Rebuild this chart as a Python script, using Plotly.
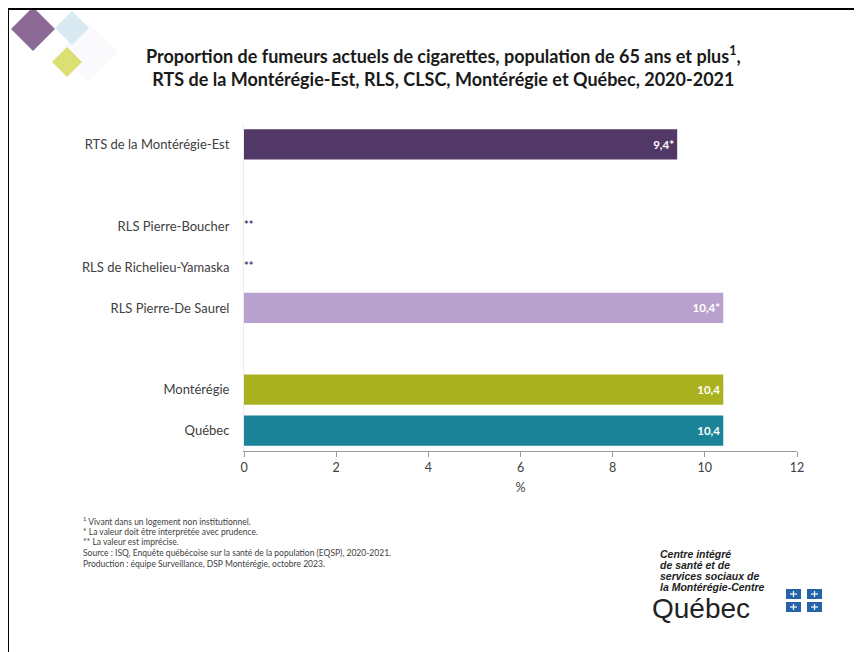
import plotly.graph_objects as go

categories = ["RTS de la Montérégie-Est", " ", "RLS Pierre-Boucher", "RLS de Richelieu-Yamaska",
              "RLS Pierre-De Saurel", "  ", "Montérégie", "Québec"]
values = [9.4, None, None, None, 10.4, None, 10.4, 10.4]
value_labels = ["9,4*", "", "", "", "10,4*", "", "10,4", "10,4"]
imprecise_labels = ["", "", "**", "**", "", "", "", ""]
bar_colors = ["#523866", "#ffffff", "#ffffff", "#ffffff", "#B8A1CC", "#ffffff", "#A9B21E", "#1B8397"]
x_ticks = [0, 2, 4, 6, 8, 10, 12]

# the page places the figure 8px from the top-left corner; layout is given in screen pixels
OFF = 8
W, H = 862 - OFF, 652 - OFF
L, R, T, B = 244 - OFF, 797 - OFF, 124 - OFF, 451 - OFF


def px(x):
    return ((x - OFF) - L) / (R - L)


def py(y):
    return (B - (y - OFF)) / (B - T)


fig = go.Figure()
fig.add_trace(go.Bar(
    y=categories, x=values, orientation="h",
    marker=dict(color=bar_colors, line=dict(width=0)),
    text=value_labels, textposition="inside", insidetextanchor="end",
    textfont=dict(family="Lato", size=11.5, color="white", weight="bold"),
    cliponaxis=False, hoverinfo="skip", showlegend=False,
))
fig.add_trace(go.Scatter(
    y=categories, x=[0] * len(categories), mode="text",
    text=imprecise_labels, textposition="middle right",
    textfont=dict(family="Lato", size=11, color="#4A3A78", weight="bold"),
    hoverinfo="skip", showlegend=False, cliponaxis=False,
))

shapes = []
# frame lines (top and left)
shapes.append(dict(type="line", xref="paper", yref="paper", x0=px(6), x1=px(870), y0=py(8.5), y1=py(8.5),
                   line=dict(color="black", width=3)))
shapes.append(dict(type="line", xref="paper", yref="paper", x0=px(8), x1=px(8), y0=py(7), y1=py(660),
                   line=dict(color="black", width=2)))


def diamond(cx, cy, r, color, opacity=1.0):
    pts = [(cx, cy - r), (cx + r, cy), (cx, cy + r), (cx - r, cy)]
    path = "M " + " L ".join(f"{px(a):.5f},{py(b):.5f}" for a, b in pts) + " Z"
    return dict(type="path", xref="paper", yref="paper", path=path,
                fillcolor=color, line=dict(width=0), opacity=opacity, layer="below")


shapes.append(diamond(88, 52, 30, "#FAFAFC"))
shapes.append(diamond(72, 28, 17, "#D9E9F1"))
shapes.append(diamond(33, 29, 22, "#8A6A94"))
shapes.append(diamond(67, 62, 15, "#DCDF72"))

# Quebec flag squares
for (fx, fy) in [(786, 589), (807, 589), (786, 602), (807, 602)]:
    shapes.append(dict(type="rect", xref="paper", yref="paper",
                       x0=px(fx), x1=px(fx + 15), y0=py(fy), y1=py(fy + 10),
                       fillcolor="#2563A8", line=dict(width=0)))
    shapes.append(dict(type="line", xref="paper", yref="paper",
                       x0=px(fx + 7.5), x1=px(fx + 7.5), y0=py(fy + 2), y1=py(fy + 8),
                       line=dict(color="white", width=1.2)))
    shapes.append(dict(type="line", xref="paper", yref="paper",
                       x0=px(fx + 4), x1=px(fx + 11), y0=py(fy + 5), y1=py(fy + 5),
                       line=dict(color="white", width=1.2)))

annotations = []
annotations.append(dict(
    xref="paper", yref="paper", x=px(443), y=py(67), xanchor="center", yanchor="middle",
    text="<b>Proportion de fumeurs actuels de cigarettes, population de 65 ans et plus<sup>1</sup>,<br>"
         "RTS de la Montérégie-Est, RLS, CLSC, Montérégie et Québec, 2020-2021</b>",
    showarrow=False, font=dict(family="Lato", size=18, color="#1a1a1a"), align="center"))

foot = ["<sup>1</sup> Vivant dans un logement non institutionnel.",
        "* La valeur doit être interprétée avec prudence.",
        "** La valeur est imprécise.",
        "Source : ISQ, Enquête québécoise sur la santé de la population (EQSP), 2020-2021.",
        "Production : équipe Surveillance, DSP Montérégie, octobre 2023."]
for i, line in enumerate(foot):
    annotations.append(dict(xref="paper", yref="paper", x=px(81), y=py(521 + i * 10.7),
                            xanchor="left", yanchor="middle", text=line, showarrow=False,
                            font=dict(family="Lato", size=8.5, color="#404040")))

logo = ["Centre intégré", "de santé et de", "services sociaux de", "la Montérégie-Centre"]
for i, line in enumerate(logo):
    annotations.append(dict(xref="paper", yref="paper", x=px(658), y=py(554 + i * 11),
                            xanchor="left", yanchor="middle", text=f"<b><i>{line}</i></b>",
                            showarrow=False, font=dict(family="Liberation Sans", size=10.5, color="#222222")))
annotations.append(dict(xref="paper", yref="paper", x=px(650), y=py(608), xanchor="left", yanchor="middle",
                        text="Québec", showarrow=False,
                        font=dict(family="Liberation Sans", size=28, color="#222222")))

fig.update_layout(
    width=W, height=H,
    margin=dict(l=L, r=W - R, t=T, b=H - B, pad=0),
    paper_bgcolor="white", plot_bgcolor="white",
    bargap=0.26,
    shapes=shapes, annotations=annotations,
    font=dict(family="Lato", color="#404040"),
    xaxis=dict(range=[0, 12], tickvals=x_ticks, ticktext=[str(v) for v in x_ticks],
               showgrid=False, zeroline=False, showline=True, linecolor="#9a9a9a", linewidth=1,
               ticks="outside", ticklen=5, tickcolor="#9a9a9a",
               tickfont=dict(family="Lato", size=12.5, color="#404040"),
               title=dict(text="%", font=dict(family="Lato", size=12.5, color="#404040"), standoff=9)),
    yaxis=dict(categoryorder="array", categoryarray=categories, autorange="reversed",
               showgrid=False, zeroline=False, showline=True, linecolor="#ececec", linewidth=1,
               ticks="", ticklabelstandoff=11,
               tickfont=dict(family="Lato", size=13, color="#404040")),
)

fig.write_html("out.html")
